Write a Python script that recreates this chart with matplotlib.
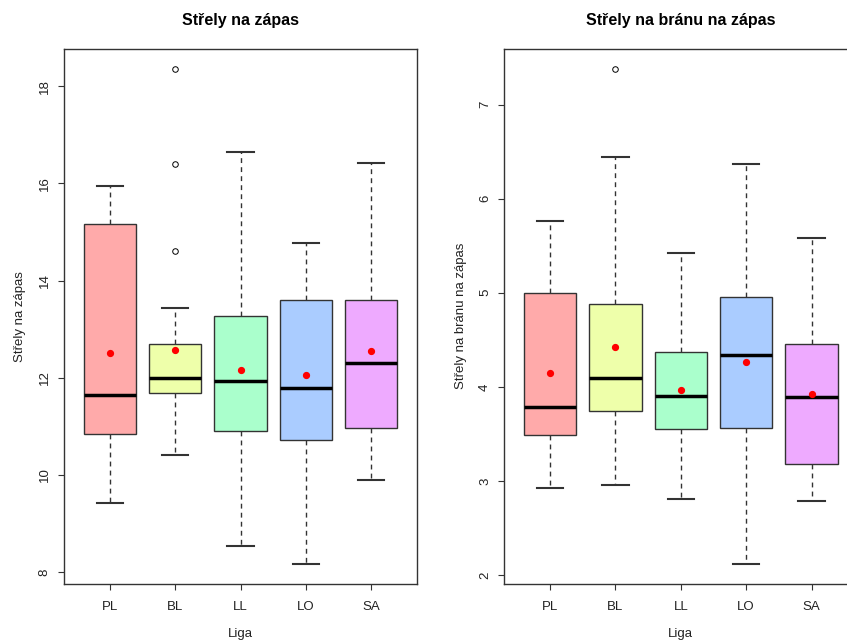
import matplotlib
matplotlib.use("Agg")
import matplotlib.pyplot as plt

plt.rcParams["font.family"] = ["Liberation Sans", "DejaVu Sans"]

leagues = ["PL", "BL", "LL", "LO", "SA"]
box_colors = ["#FFAAAA", "#EEFFAA", "#AAFFCC", "#AACCFF", "#EEAAFF"]

# shots per match
shots_whislo = [9.41, 10.40, 8.53, 8.17, 9.90]
shots_q1 = [10.84, 11.68, 10.90, 10.71, 10.97]
shots_med = [11.64, 12.00, 11.94, 11.78, 12.30]
shots_q3 = [15.17, 12.69, 13.26, 13.59, 13.60]
shots_whishi = [15.95, 13.43, 16.65, 14.77, 16.43]
shots_mean = [12.51, 12.58, 12.16, 12.06, 12.55]
shots_fliers = [[], [14.60, 16.40, 18.36], [], [], []]

# shots on target per match
target_whislo = [2.92, 2.96, 2.81, 2.12, 2.79]
target_q1 = [3.49, 3.74, 3.55, 3.56, 3.18]
target_med = [3.79, 4.09, 3.90, 4.34, 3.89]
target_q3 = [5.00, 4.88, 4.37, 4.95, 4.46]
target_whishi = [5.76, 6.44, 5.42, 6.37, 5.58]
target_mean = [4.15, 4.42, 3.97, 4.26, 3.92]
target_fliers = [[], [7.38], [], [], []]


def make_stats(whislo, q1, med, q3, whishi, fliers):
    stats = []
    for i in range(len(leagues)):
        stats.append({
            "label": leagues[i],
            "whislo": whislo[i], "q1": q1[i], "med": med[i],
            "q3": q3[i], "whishi": whishi[i], "fliers": fliers[i],
        })
    return stats


def draw_panel(ax, stats, means, title, ylabel, yticks):
    pos = list(range(1, len(leagues) + 1))
    bp = ax.bxp(
        stats, positions=pos, widths=0.8, patch_artist=True,
        showfliers=True,
        boxprops=dict(edgecolor="#333333", linewidth=1.0),
        whiskerprops=dict(color="#333333", linewidth=1.0, linestyle=(0, (3.5, 3))),
        capprops=dict(color="#333333", linewidth=1.5),
        medianprops=dict(color="black", linewidth=2.5, solid_capstyle="butt"),
        flierprops=dict(marker="o", markersize=4, markerfacecolor="none",
                        markeredgecolor="black", markeredgewidth=0.7),
    )
    # R-style staples: half the box width
    for cap in bp["caps"]:
        x0, x1 = cap.get_xdata()
        c = (x0 + x1) / 2
        cap.set_xdata([c - 0.2, c + 0.2])
    for patch, col in zip(bp["boxes"], box_colors):
        patch.set_facecolor(col)

    ax.plot(pos, means, "o", color="red", markersize=4.2, zorder=5)

    all_vals = [s["whislo"] for s in stats] + [s["whishi"] for s in stats]
    for s in stats:
        all_vals += s["fliers"]
    lo, hi = min(all_vals), max(all_vals)
    pad = 0.04 * (hi - lo)
    ax.set_ylim(lo - pad, hi + pad)
    ax.set_xlim(0.3, 5.7)
    ax.set_yticks(yticks)
    ax.set_yticklabels([str(t) for t in yticks], rotation=90, va="center")
    ax.set_xticks(pos)
    ax.set_xticklabels(leagues)
    ax.tick_params(axis="both", direction="out", length=4.5, width=0.8,
                   color="#333333", labelsize=9.5, labelcolor="#222222")
    ax.tick_params(axis="x", pad=8)
    ax.tick_params(axis="y", pad=5)

    for sp in ax.spines.values():
        sp.set_color("#333333")
        sp.set_linewidth(1.0)

    ax.set_title(title, fontsize=11.5, fontweight="bold", pad=17)
    ax.set_xlabel("Liga", fontsize=9.5, labelpad=11, color="#222222")
    ax.set_ylabel(ylabel, fontsize=9.5, labelpad=9, color="#222222")


fig = plt.figure(figsize=(8.47, 6.4), dpi=100)
ax1 = fig.add_axes([64 / 847, 56.5 / 640, 353 / 847, 534.5 / 640])
ax2 = fig.add_axes([504.3 / 847, 56.5 / 640, 353 / 847, 534.5 / 640])

draw_panel(ax1,
           make_stats(shots_whislo, shots_q1, shots_med, shots_q3, shots_whishi, shots_fliers),
           shots_mean, "Střely na zápas", "Střely na zápas", [8, 10, 12, 14, 16, 18])
draw_panel(ax2,
           make_stats(target_whislo, target_q1, target_med, target_q3, target_whishi, target_fliers),
           target_mean, "Střely na bránu na zápas", "Střely na bránu na zápas",
           [2, 3, 4, 5, 6, 7])

fig.savefig("out.png", dpi=100)
